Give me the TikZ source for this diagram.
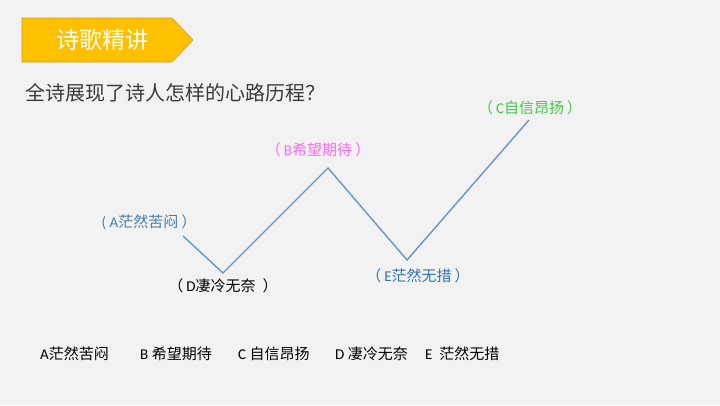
\documentclass[tikz,border=0pt]{standalone}
\usepackage{fontspec}
\setmainfont{Carlito}
\newfontfamily\cjk{Noto Sans CJK SC}
\usetikzlibrary{positioning}

\definecolor{bggray}{HTML}{F2F2F2}
\definecolor{bannergold}{HTML}{FFC000}
\definecolor{bannerline}{HTML}{C9A227}
\definecolor{pathblue}{HTML}{6596CB}
\definecolor{textgray}{HTML}{3A3A3A}
\definecolor{moodA}{HTML}{4A7EA6}
\definecolor{moodB}{HTML}{FF6BF0}
\definecolor{moodC}{HTML}{45C845}
\definecolor{moodE}{HTML}{2F73B4}

\newcommand{\zh}[1]{{\cjk #1}}
\newcommand{\lpar}{{\cjk （}\kern3pt}
\newcommand{\rpar}{\kern3pt{\cjk ）}}

\begin{document}
\begin{tikzpicture}[x=1pt, y=-1pt,
    mood/.style={inner sep=0pt, font=\fontsize{15}{17}\selectfont},
    item/.style={inner sep=0pt, anchor=west, text=black, font=\fontsize{15}{17}\selectfont},
    pathline/.style={pathblue, line width=1.4pt, line join=miter}]
    \fill[bggray] (0,0) rectangle (720,405);
    \useasboundingbox (0,0) rectangle (720,405);
    % banner
    \filldraw[fill=bannergold, draw=bannerline, line width=0.6pt]
        (22,18) -- (172,18) -- (193,40) -- (172,62) -- (22,62) -- cycle;
    \node[text=white, font=\cjk\fontsize{23}{26}\selectfont, inner sep=0pt] (title) at (102,40) {诗歌精讲};
    \node[text=textgray, anchor=west, font=\cjk\fontsize{20}{24}\selectfont, inner sep=0pt] (question) at (25,93) {全诗展现了诗人怎样的心路历程？};
    % turning points
    \coordinate (a) at (183,236);
    \coordinate (d) at (223,273);
    \coordinate (b) at (328,168);
    \coordinate (e) at (407,260);
    \coordinate (c) at (529,120);
    \draw[pathline] (a) -- (d) -- (b) -- (e) -- (c);
    % labels
    \node[mood, text=moodA] (labA) at (149,222) {( A\zh{茫然苦闷}\rpar};
    \node[mood, text=moodB] (labB) at (318,150) {\lpar B\zh{希望期待}\rpar};
    \node[mood, text=black] (labD) at (223,286) {\lpar D\zh{凄冷无奈}\kern4pt\rpar};
    \node[mood, text=moodE] (labE) at (418,276) {\lpar E\zh{茫然无措}\rpar};
    \node[mood, text=moodC] (labC) at (530,108) {\lpar C\zh{自信昂扬}\rpar};
    % choices
    \node[item] (optA) at (40,354) {A\zh{茫然苦闷}};
    \node[item] (optB) at (140,354) {B \zh{希望期待}};
    \node[item] (optC) at (238,354) {C \zh{自信昂扬}};
    \node[item] (optD) at (335,354) {D \zh{凄冷无奈}};
    \node[item] (optE) at (425,354) {E\ \ \zh{茫然无措}};
\end{tikzpicture}
\end{document}
